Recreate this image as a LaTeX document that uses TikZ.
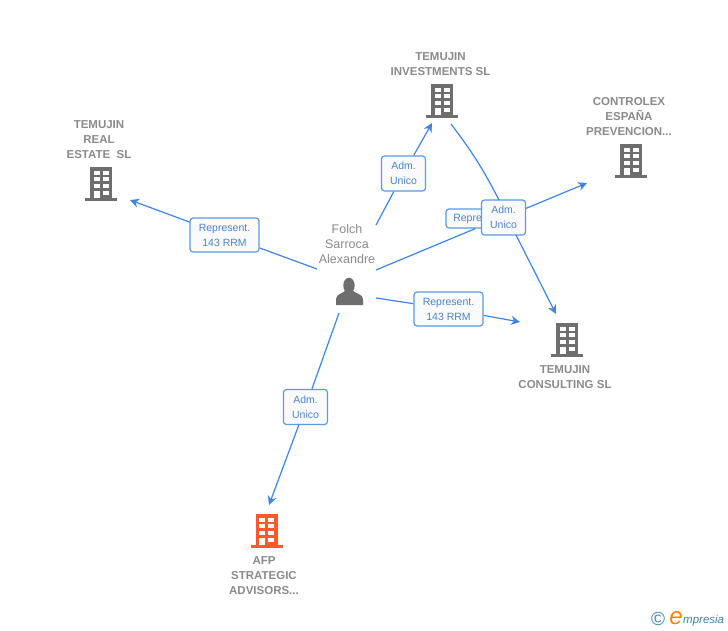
\documentclass[tikz,border=0pt]{standalone}
\usepackage{fontspec}
\setmainfont{Liberation Sans}
\usetikzlibrary{arrows.meta}
\definecolor{linkblue}{HTML}{3D85E0}
\definecolor{tagblue}{HTML}{5A9AE6}
\definecolor{tagfill}{HTML}{FAFAFA}
\definecolor{namegray}{HTML}{8A8A8A}
\definecolor{icongray}{HTML}{6E6E6E}
\definecolor{iconred}{HTML}{FF5A2B}
\definecolor{logoblue}{HTML}{3F7F9F}
\tikzset{
	corpname/.style={text=namegray,align=center,inner sep=0pt,font=\fontsize{11.5}{15}\selectfont\bfseries},
	folch/.style={text=namegray,align=center,inner sep=0pt,font=\fontsize{12.5}{15}\selectfont},
	tag/.style={draw=tagblue,fill=tagfill,rounded corners=3pt,line width=1.2pt,text=tagblue!85!black,align=center,inner sep=0pt,font=\fontsize{10.5}{15}\selectfont},
	link/.style={draw=linkblue,line width=1.2pt},
	linkarrow/.style={link,-{Stealth[length=9pt,width=9pt]}},
	pics/block/.style={code={
		\fill[#1] (-11,-17) rectangle (11,14);
		\fill[#1] (-16,14) rectangle (16,17);
		\foreach \y in {-13.5,-7,-0.5}{
			\fill[white] (-7.5,\y) rectangle (-1.5,\y+4.2);
			\fill[white] (1.5,\y) rectangle (7.5,\y+4.2);
		}
		\fill[white] (-7.5,6.5) rectangle (-1.5,14);
		\fill[white] (1.5,6.5) rectangle (7.5,10.7);
	}}
}
\begin{document}
\begin{tikzpicture}[x=1pt,y=-1pt]
	\useasboundingbox (0,0) rectangle (728,630);
	%icons
	\pic at (101,184) {block=icongray};
	\pic at (442,101) {block=icongray};
	\pic at (631,161) {block=icongray};
	\pic at (567,340) {block=icongray};
	\pic at (266.5,531) {block=iconred};
	%person
	\fill[icongray] (349,285.5) ellipse (5.7 and 7.8);
	\fill[icongray] (336,305) -- (336,299) .. controls (336,294) and (343,293.5) .. (346,290) -- (352,290) .. controls (355,293.5) and (363,294) .. (363,299) -- (363,305) -- cycle;
	%names
	\node[corpname] (realname) at (99,140) {TEMUJIN\\REAL\\ESTATE~~SL};
	\node[corpname] (invname) at (440.5,64.5) {TEMUJIN\\INVESTMENTS SL};
	\node[corpname] (ctrlname) at (629,117) {CONTROLEX\\ESPAÑA\\PREVENCION...};
	\node[corpname] (consname) at (565,377.5) {TEMUJIN\\CONSULTING SL};
	\node[corpname] (afpname) at (264,576) {AFP\\STRATEGIC\\ADVISORS...};
	\node[folch] (folchname) at (347,244) {Folch\\Sarroca\\Alexandre};
	%free ends
	\coordinate (outreal) at (317,269);
	\coordinate (outinv) at (376,225);
	\coordinate (outctrl) at (376,270);
	\coordinate (outcons) at (376,298);
	\coordinate (outafp) at (339,313);
	\coordinate (invout) at (451,124);
	\coordinate (admtop) at (499,200);
	\coordinate (admbot) at (516,235);
	\coordinate (tipreal) at (130,200);
	\coordinate (tipinv) at (432,123);
	\coordinate (tipctrl) at (587,183);
	\coordinate (tipcons) at (520,322);
	\coordinate (tipafp) at (269,505);
	\coordinate (tipboth) at (556,314);
	%tags
	\node[tag,minimum width=69pt,minimum height=34pt] (tagreal) at (224.5,235) {Represent.\\143 RRM};
	\node[tag,minimum width=44pt,minimum height=35pt] (taginv) at (403.5,173.5) {Adm.\\Unico};
	\node[tag,minimum width=69pt,minimum height=34pt] (tagcons) at (448.5,309) {Represent.\\143 RRM};
	\node[tag,minimum width=44pt,minimum height=35pt] (tagafp) at (305.5,407) {Adm.\\Unico};
	\node[tag,minimum width=66pt,minimum height=19pt] (tagctrl) at (479,218.5) {Represent.};
	\node[tag,minimum width=44pt,minimum height=35pt] (tagboth) at (503.5,217.5) {Adm.\\Unico};
	%links
	\draw[link] (outreal) -- (tagreal);
	\draw[linkarrow] (tagreal) -- (tipreal);
	\draw[link] (outinv) -- (taginv);
	\draw[linkarrow] (taginv) -- (tipinv);
	\draw[link] (outcons) -- (tagcons);
	\draw[linkarrow] (tagcons) -- (tipcons);
	\draw[link] (outafp) -- (tagafp);
	\draw[linkarrow] (tagafp) -- (tipafp);
	\draw[link] (outctrl) -- (tagctrl.-110);
	\draw[linkarrow] (tagboth.22) -- (tipctrl);
	\draw[link] (invout) to[bend left=5] (admtop);
	\draw[linkarrow] (admbot) -- (tipboth);
	%logo
	\node[inner sep=0pt,text=logoblue,font=\fontsize{19}{19}\selectfont] (logoc) at (658,619) {©};
	\node[inner sep=0pt,text=orange,font=\fontsize{24}{24}\selectfont\itshape,anchor=base] (logoe) at (676,624) {e};
	\node[inner sep=0pt,text=logoblue,font=\fontsize{11.5}{12}\selectfont\itshape,anchor=base west] (logot) at (683,623) {mpresia};
\end{tikzpicture}
\end{document}
